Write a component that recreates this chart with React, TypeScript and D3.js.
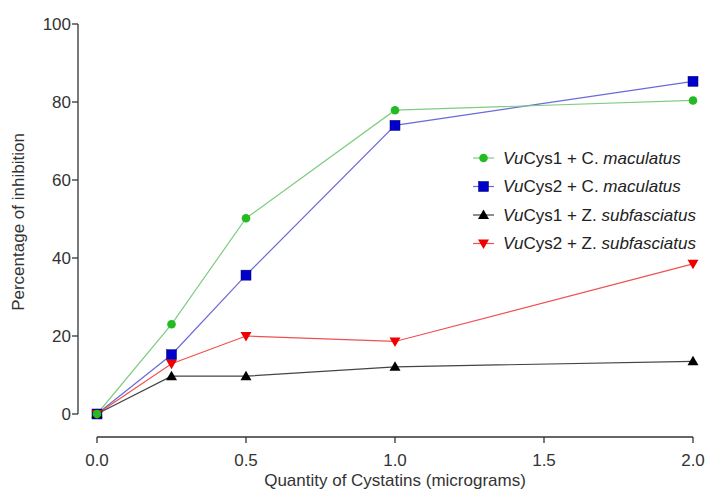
import React from 'react';
import * as d3 from 'd3';

// Data
const doses = [0, 0.25, 0.5, 1.0, 2.0];
const vuCys1Cm = [0, 23, 50.2, 77.9, 80.4];
const vuCys2Cm = [0, 15.2, 35.6, 74, 85.3];
const vuCys1Zs = [0, 9.7, 9.7, 12.1, 13.5];
const vuCys2Zs = [0, 12.9, 20, 18.6, 38.5];
const xTicks = [0, 0.5, 1.0, 1.5, 2.0];
const yTicks = [0, 20, 40, 60, 80, 100];

const series = [
  { key: 'c2', pre: 'Cys2 + ', gen: 'C.', sp: 'maculatus', values: vuCys2Cm, line: '#6a6ad8', fill: '#0000cc', shape: 'square' },
  { key: 'z2', pre: 'Cys2 + ', gen: 'Z.', sp: 'subfasciatus', values: vuCys2Zs, line: '#f05050', fill: '#ee0000', shape: 'down' },
  { key: 'z1', pre: 'Cys1 + ', gen: 'Z.', sp: 'subfasciatus', values: vuCys1Zs, line: '#444444', fill: '#000000', shape: 'up' },
  { key: 'c1', pre: 'Cys1 + ', gen: 'C.', sp: 'maculatus', values: vuCys1Cm, line: '#80cc80', fill: '#22bb22', shape: 'circle' },
];
const legendOrder = ['c1', 'c2', 'z1', 'z2'];

const font = 'Arial, "Liberation Sans", sans-serif';

const Marker = ({ shape, x, y, fill }: { shape: string; x: number; y: number; fill: string }) => {
  if (shape === 'circle') return <circle cx={x} cy={y} r={4.3} fill={fill} />;
  if (shape === 'square') return <rect x={x - 5} y={y - 5} width={10} height={10} fill={fill} stroke="#000066" strokeWidth={0.5} />;
  if (shape === 'up') return <path d={`M${x},${y - 5.5}L${x + 5.5},${y + 4}L${x - 5.5},${y + 4}Z`} fill={fill} />;
  return <path d={`M${x},${y + 5.5}L${x + 5.5},${y - 4}L${x - 5.5},${y - 4}Z`} fill={fill} />;
};

export default function App() {
  const width = 708;
  const height = 491;
  const x = d3.scaleLinear().domain([0, 2]).range([97, 693]);
  const y = d3.scaleLinear().domain([0, 100]).range([414, 24]);
  const axisColor = '#333';
  const xAxisY = 437;
  const yAxisX = 78;
  const fs = 17;

  const line = d3.line<number>()
    .x((_, i) => x(doses[i]))
    .y(d => y(d));

  return (
    <svg width={width} height={height} style={{ position: 'absolute', left: 0, top: 0, background: '#fff' }} fontFamily={font}>
      {/* Y axis */}
      <line x1={yAxisX} x2={yAxisX} y1={y(100)} y2={y(0)} stroke={axisColor} strokeWidth={1.3} />
      {yTicks.map(t => (
        <g key={t}>
          <line x1={yAxisX - 6} x2={yAxisX} y1={y(t)} y2={y(t)} stroke={axisColor} strokeWidth={1.3} />
          <text x={yAxisX - 7} y={y(t)} dy="0.35em" textAnchor="end" fontSize={fs} fill={axisColor}>{t}</text>
        </g>
      ))}
      <text transform={`translate(24,${y(50) + 3}) rotate(-90)`} textAnchor="middle" fontSize={fs} fill={axisColor}>Percentage of inhibition</text>

      {/* X axis */}
      <line x1={x(0)} x2={x(2)} y1={xAxisY} y2={xAxisY} stroke={axisColor} strokeWidth={1.3} />
      {xTicks.map(t => (
        <g key={t}>
          <line x1={x(t)} x2={x(t)} y1={xAxisY} y2={xAxisY + 6} stroke={axisColor} strokeWidth={1.3} />
          <text x={x(t)} y={xAxisY + 29} textAnchor="middle" fontSize={fs} fill={axisColor}>{t.toFixed(1)}</text>
        </g>
      ))}
      <text x={395} y={486} textAnchor="middle" fontSize={fs} fill={axisColor}>Quantity of Cystatins (micrograms)</text>

      {/* Lines */}
      {series.map(s => (
        <path key={s.key} d={line(s.values) || ''} fill="none" stroke={s.line} strokeWidth={1.2} />
      ))}
      {series.map(s => (
        <g key={s.key}>
          {s.values.map((v, i) => (
            <Marker key={i} shape={s.shape} x={x(doses[i])} y={y(v)} fill={s.fill} />
          ))}
        </g>
      ))}

      {/* Legend */}
      {legendOrder.map((k, i) => {
        const s = series.find(d => d.key === k)!;
        const ly = 158 + i * 28.5;
        return (
          <g key={k}>
            <line x1={473} x2={494} y1={ly} y2={ly} stroke={s.line} strokeWidth={1.2} />
            <Marker shape={s.shape} x={483.5} y={ly} fill={s.fill} />
            <text x={503} y={ly} dy="0.35em" fontSize={fs} fill="#222">
              <tspan fontStyle="italic">Vu</tspan>{s.pre}{s.gen} <tspan fontStyle="italic">{s.sp}</tspan>
            </text>
          </g>
        );
      })}
    </svg>
  );
}
